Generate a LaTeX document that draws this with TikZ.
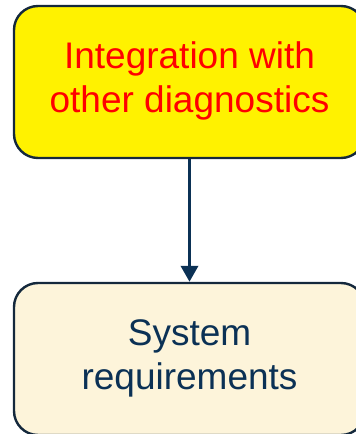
\documentclass[tikz,border=0pt]{standalone}
\usepackage{fontspec}
\setmainfont{Liberation Sans}
\usetikzlibrary{arrows.meta}
\definecolor{navy}{HTML}{0B3155}
\definecolor{edge}{HTML}{14283C}
\definecolor{cream}{HTML}{FDF4DA}
\definecolor{txtred}{HTML}{FF0000}
\newcommand{\boxtext}[1]{\raisebox{-5pt}{\begin{tabular}{@{}c@{}}#1\end{tabular}}}
\tikzset{
  box/.style={draw=edge, line width=2.4pt, rounded corners=24pt,
    minimum width=351pt, minimum height=152pt,
    font=\fontsize{37}{44}\selectfont, inner sep=0pt},
  link/.style={draw=navy, line width=3.6pt, -{Triangle[length=16pt,width=17pt]}}
}
\begin{document}
\begin{tikzpicture}[x=1pt,y=1pt]
\clip (0,0) rectangle (356,434);
\node[box, fill=yellow, text=txtred] (top) at (189.5,352) {\boxtext{Integration with\\other diagnostics}};
\node[box, fill=cream, text=navy] (bot) at (189.5,75) {\boxtext{System\\requirements}};
\draw[link] (top.south) -- (bot.north);
\end{tikzpicture}
\end{document}
